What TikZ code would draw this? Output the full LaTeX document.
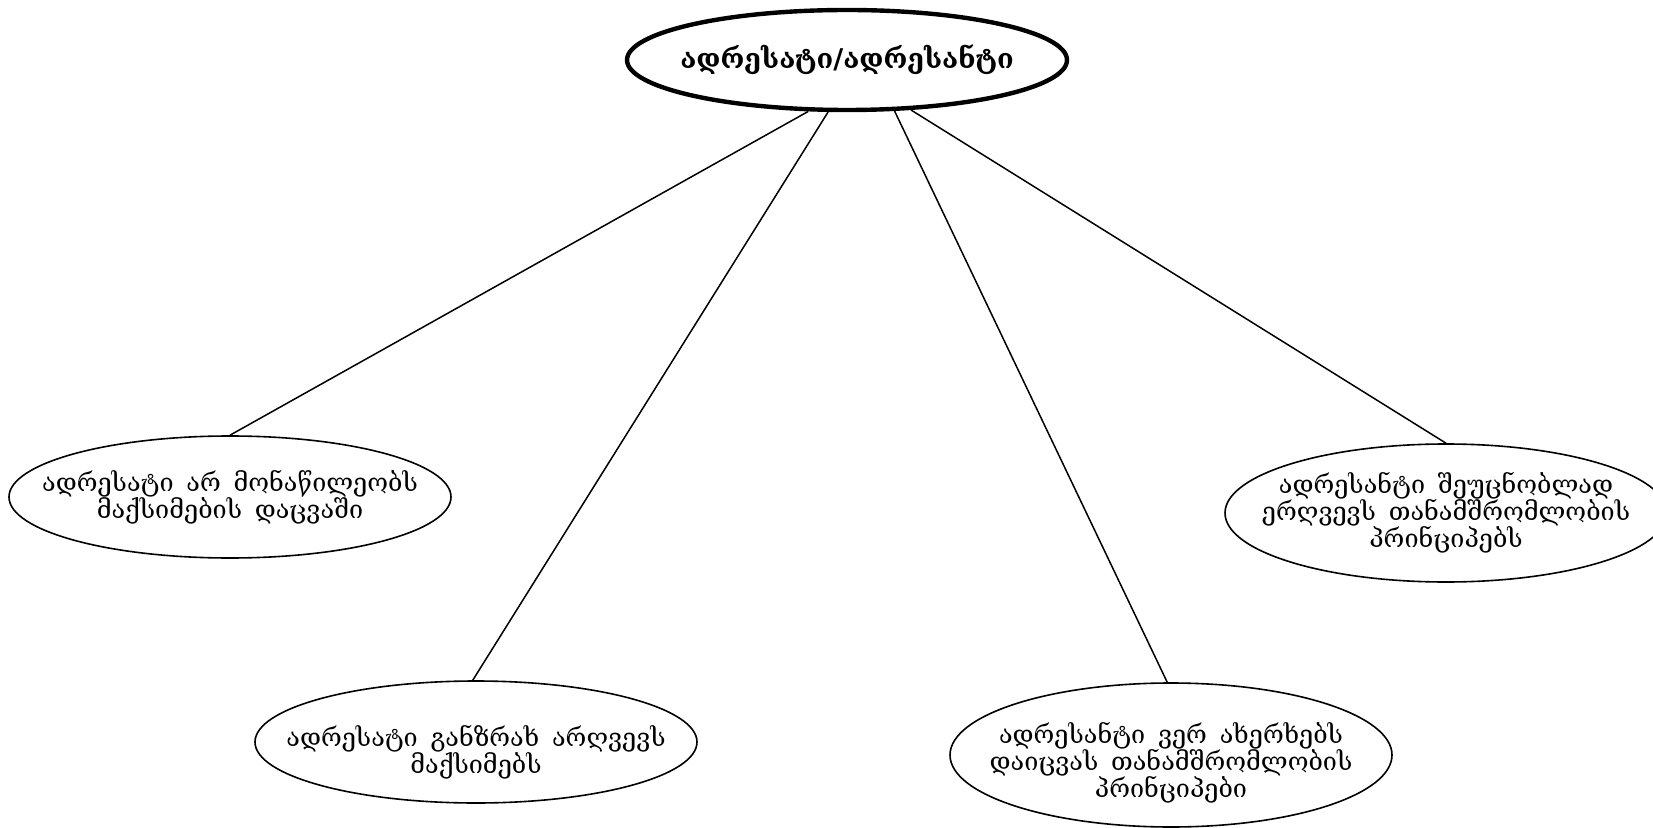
\documentclass[tikz,border=0pt]{standalone}
\usepackage{fontspec}
\newfontfamily\geo[WordSpace=1.6]{DejaVu Serif}
\usetikzlibrary{shapes.geometric}
\begin{document}
\begin{tikzpicture}[x=0.5pt,y=-0.5pt,
  leaf/.style={ellipse, draw, line width=0.8pt, inner sep=0pt, minimum width=221pt},
  txt/.style={align=center, inner sep=0pt, font=\geo\fontsize{12.6}{13.6}\selectfont},
  root/.style={ellipse, draw, line width=2.2pt, inner sep=0pt, minimum width=220pt, minimum height=50pt},
  rtxt/.style={inner sep=0pt, font=\geo\bfseries\fontsize{13.6}{16}\selectfont},
  link/.style={line width=0.75pt}]
\useasboundingbox (0,0) rectangle (1653,828);
\node[root, label={[rtxt]center:ადრესატი/ადრესანტი}] (r) at (847,60) {};
\node[leaf, minimum height=61pt, label={[txt]center:{ადრესატი არ მონაწილეობს\\მაქსიმების დაცვაში}}] (a) at (230,497) {};
\node[leaf, minimum height=61pt, label={[txt, yshift=-5pt]center:{ადრესატი განზრახ არღვევს\\მაქსიმებს}}] (b) at (476,742) {};
\node[leaf, minimum height=72pt, label={[txt, yshift=-4pt]center:{ადრესანტი ვერ ახერხებს\\დაიცვას თანამშრომლობის\\პრინციპები}}] (c) at (1171,755) {};
\node[leaf, minimum height=69pt, label={[txt]center:{ადრესანტი შეუცნობლად\\ერღვევს თანამშრომლობის\\პრინციპებს}}] (d) at (1446,513) {};
\draw[link] (r.233) -- (a.north);
\draw[link] (r.250) -- (b.93);
\draw[link] (r.313) -- (c.93);
\draw[link] (r.322) -- (d.north);
\end{tikzpicture}
\end{document}
